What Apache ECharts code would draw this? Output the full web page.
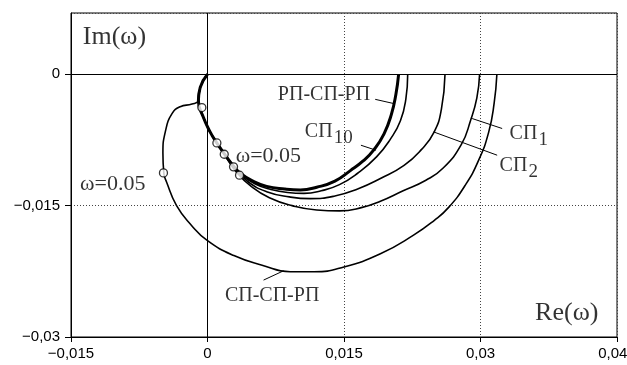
<!DOCTYPE html>
<html>
<head>
<meta charset="utf-8">
<script src="https://cdn.jsdelivr.net/npm/echarts@6/dist/echarts.min.js"></script>
<style>
  html, body { margin: 0; padding: 0; background: #fff; }
  #chart { width: 627px; height: 365px; }
</style>
</head>
<body>
<div id="chart"></div>
<script>
// годографы [Re, Im]
var rpSpRp = [[0, 0], [-0.0008, -0.0015], [-0.001, -0.003], [-0.0005, -0.0048], [0.0003, -0.0066], [0.001, -0.0078], [0.0018, -0.009], [0.0028, -0.0104], [0.0036, -0.0113], [0.005, -0.0122], [0.0065, -0.0128], [0.0085, -0.0131], [0.0102, -0.0132], [0.012, -0.0129], [0.014, -0.0122], [0.0157, -0.011], [0.0171, -0.0099], [0.0183, -0.0086], [0.0194, -0.0068], [0.0202, -0.0046], [0.0207, -0.0023], [0.021, 0]]
var sp10 = [[0, 0], [-0.0008, -0.0015], [-0.001, -0.003], [-0.0005, -0.0048], [0.0003, -0.0066], [0.001, -0.0078], [0.0018, -0.009], [0.0029, -0.0105], [0.0038, -0.0115], [0.0052, -0.0125], [0.0068, -0.0131], [0.0088, -0.0135], [0.0106, -0.0136], [0.0125, -0.0133], [0.0145, -0.0126], [0.0165, -0.0113], [0.0186, -0.0094], [0.0201, -0.0074], [0.0212, -0.0053], [0.0218, -0.0028], [0.022, 0]]
var sp2 = [[0, 0], [-0.0008, -0.0015], [-0.001, -0.003], [-0.0005, -0.0048], [0.0003, -0.0066], [0.001, -0.0078], [0.0019, -0.0091], [0.0029, -0.0106], [0.0045, -0.0123], [0.0065, -0.0134], [0.009, -0.014], [0.0113, -0.0142], [0.014, -0.0139], [0.0165, -0.0131], [0.019, -0.0119], [0.0216, -0.0104], [0.0235, -0.0086], [0.0249, -0.0066], [0.0257, -0.004], [0.0261, 0]]
var sp1 = [[0, 0], [-0.0008, -0.0015], [-0.001, -0.003], [-0.0005, -0.0048], [0.0003, -0.0066], [0.001, -0.0078], [0.002, -0.0094], [0.0032, -0.0112], [0.0048, -0.0128], [0.0068, -0.0141], [0.0093, -0.015], [0.012, -0.0155], [0.0145, -0.0156], [0.017, -0.0152], [0.019, -0.0145], [0.0215, -0.0133], [0.024, -0.0121], [0.0259, -0.0107], [0.0279, -0.008], [0.0289, -0.0053], [0.0296, -0.0027], [0.0299, 0]]
var spSpRp = [[0, 0], [-0.0008, -0.0015], [-0.001, -0.003], [-0.0017, -0.0034], [-0.003, -0.0037], [-0.0039, -0.0045], [-0.0046, -0.0064], [-0.0049, -0.009], [-0.0048, -0.0113], [-0.0045, -0.0123], [-0.0034, -0.015], [-0.0018, -0.0172], [0, -0.019], [0.0029, -0.0207], [0.006, -0.0218], [0.0091, -0.02255], [0.0117, -0.02255], [0.015, -0.022], [0.019, -0.0205], [0.0226, -0.0184], [0.0249, -0.0167], [0.0265, -0.0152], [0.0283, -0.0127], [0.0298, -0.0098], [0.0309, -0.0066], [0.0315, -0.0033], [0.0318, 0]]

// точки omega = 0.05
var omegaPoints = [[-0.00062, -0.0038], [0.00103, -0.00784], [0.00184, -0.00913], [0.00286, -0.01057], [0.00352, -0.01152], [-0.00484, -0.01126]]

var xTicks = [-0.015, 0, 0.015, 0.03, 0.045]
var xTickLabels = ['−0,015', '0', '0,015', '0,03', '0,045']
var yTicks = [-0.03, -0.015, 0]
var yTickLabels = ['−0,03', '−0,015', '0']

// подписи кривых и выноски
var labelTexts = ['{m|РП-СП-РП}', '{m|СП}{s|10}', '{m|СП}{s|1}', '{m|СП}{s|2}', '{m|СП-СП-РП}', '{w|ω=0.05}', '{w|ω=0.05}', '{b|Im(ω)}', '{b|Re(ω)}']
var labelAt = [[0.0128, -0.0023], [0.0107, -0.0066], [0.0332, -0.0068], [0.0321, -0.0105], [0.0071, -0.0253], [0.0031, -0.0093], [-0.014, -0.0126], [-0.0137, 0.0042], [0.036, -0.0273]]
var labelAlign = ['center', 'left', 'left', 'left', 'center', 'left', 'left', 'left', 'left']
var leaders = [
  [[0.01843, -0.00286], [0.02046, -0.00334]],
  [[0.01686, -0.0081], [0.01851, -0.00867]],
  [[0.02908, -0.00505], [0.03238, -0.00619]],
  [[0.02485, -0.00658], [0.03183, -0.00924]],
  [[0.00616, -0.0235], [0.00836, -0.02244]]
]

function tickFmt(ticks, labels) {
  return function (v) {
    for (var i = 0; i < ticks.length; i++) {
      if (Math.abs(v - ticks[i]) < 1e-9) return labels[i]
    }
    return ''
  }
}

var chart = echarts.init(document.getElementById('chart'))

var curve = function (data, w) {
  return {
    type: 'line',
    data: data,
    smooth: 0.5,
    showSymbol: false,
    silent: true,
    lineStyle: { color: '#000', width: w },
    z: 3
  }
}

var series = [
  curve(rpSpRp, 3),
  curve(sp10, 1.6),
  curve(sp2, 1.6),
  curve(sp1, 1.6),
  curve(spSpRp, 1.6)
]
// оси через ноль - сплошные
series[0].markLine = {
  silent: true,
  symbol: 'none',
  label: { show: false },
  lineStyle: { color: '#000', width: 1, type: 'solid' },
  data: [{ xAxis: 0 }, { yAxis: 0 }]
}

leaders.forEach(function (l) {
  series.push({
    type: 'line',
    data: l,
    showSymbol: false,
    silent: true,
    lineStyle: { color: '#000', width: 1 },
    z: 3
  })
})

series.push({
  type: 'scatter',
  data: omegaPoints,
  symbol: 'circle',
  symbolSize: 8,
  itemStyle: { color: '#fff', borderColor: '#000', borderWidth: 1.3 },
  z: 5
})

series.push({
  type: 'scatter',
  symbolSize: 0,
  silent: true,
  z: 6,
  data: labelAt.map(function (p, i) {
    return {
      value: p,
      label: {
        show: true,
        position: 'inside',
        align: labelAlign[i],
        verticalAlign: 'middle',
        formatter: labelTexts[i],
        rich: {
          m: { fontFamily: 'Liberation Serif', fontSize: 20, color: '#000' },
          s: { fontFamily: 'Liberation Serif', fontSize: 19, color: '#000', padding: [12, 0, 0, 1] },
          w: { fontFamily: 'Liberation Serif', fontSize: 22, color: '#000' },
          b: { fontFamily: 'Liberation Serif', fontSize: 26, color: '#000' }
        }
      }
    }
  })
})

chart.setOption({
  animation: false,
  backgroundColor: '#fff',
  grid: {
    left: 71,
    right: 10,
    top: 13,
    bottom: 28,
    containLabel: false,
    outerBoundsMode: 'none',
    show: true,
    borderColor: '#000',
    borderWidth: 1
  },
  xAxis: {
    type: 'value',
    min: -0.015,
    max: 0.045,
    interval: 0.015,
    axisLine: { onZero: false, lineStyle: { color: '#000' } },
    axisTick: { show: true, length: 5, lineStyle: { color: '#000' } },
    axisLabel: {
      margin: 9,
      color: '#000',
      fontFamily: 'Liberation Sans',
      fontSize: 15,
      hideOverlap: false,
      formatter: tickFmt(xTicks, xTickLabels)
    },
    splitLine: { show: true, lineStyle: { color: '#444', width: 1, type: [1, 2] } }
  },
  yAxis: {
    type: 'value',
    min: -0.03,
    max: 0.007,
    interval: 0.015,
    axisLine: { onZero: false, lineStyle: { color: '#000' } },
    axisTick: { show: true, length: 6, lineStyle: { color: '#000' } },
    axisLabel: {
      margin: 11,
      color: '#000',
      fontFamily: 'Liberation Sans',
      fontSize: 15,
      showMaxLabel: false,
      formatter: tickFmt(yTicks, yTickLabels)
    },
    splitLine: { show: true, lineStyle: { color: '#444', width: 1, type: [1, 2] } }
  },
  series: series
})
</script>
</body>
</html>
